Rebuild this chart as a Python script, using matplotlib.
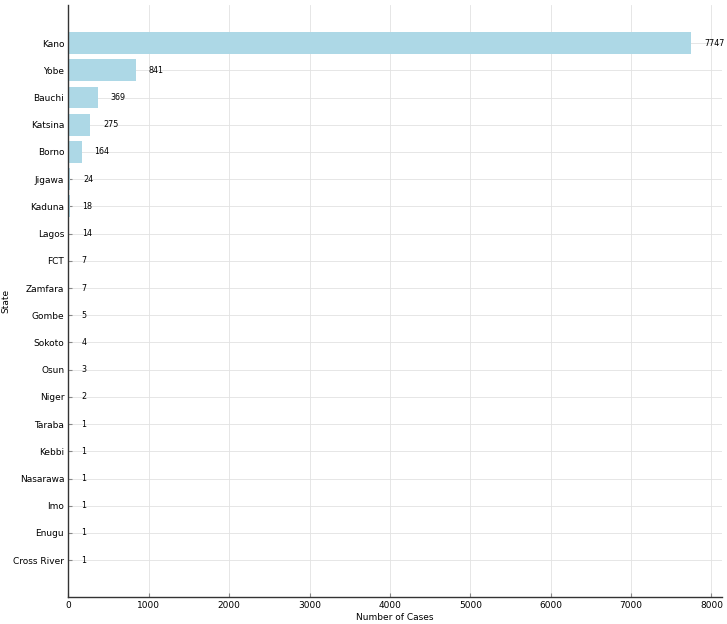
import matplotlib
matplotlib.use("Agg")
import matplotlib.pyplot as plt

states = ["Kano", "Yobe", "Bauchi", "Katsina", "Borno", "Jigawa", "Kaduna",
          "Lagos", "FCT", "Zamfara", "Gombe", "Sokoto", "Osun", "Niger",
          "Taraba", "Kebbi", "Nasarawa", "Imo", "Enugu", "Cross River"]
cases = [7747, 841, 369, 275, 164, 24, 18, 14, 7, 7, 5, 4, 3, 2, 1, 1, 1, 1, 1, 1]

fig = plt.figure(figsize=(7.27, 6.24), dpi=100)
ax = fig.add_axes([0.094, 0.043, 0.899, 0.949])

pos = list(range(len(states)))
ax.barh(pos, cases, height=0.8, color="lightblue", zorder=2)
for p, v in zip(pos, cases):
    ax.text(v + 160, p, str(v), va="center", ha="left", fontsize=5.8, zorder=3)

ax.set_yticks(pos)
ax.set_yticklabels(states, fontsize=6.5)
ax.set_xticks(range(0, 8001, 1000))
ax.tick_params(axis="x", labelsize=6.5)
ax.tick_params(direction="in", length=3, color="#888888", pad=3)
ax.set_xlim(0, 8130)
ax.set_ylim(len(states) - 1 + 1.36, -1.4)

ax.grid(True, color="#e2e2e2", linewidth=0.6, zorder=0)
for s in ["top", "right"]:
    ax.spines[s].set_visible(False)
for s in ["left", "bottom"]:
    ax.spines[s].set_color("#333333")
    ax.spines[s].set_linewidth(1.0)

ax.set_xlabel("Number of Cases", fontsize=6.5, labelpad=2)
ax.set_ylabel("State", fontsize=6.5, labelpad=2)

fig.savefig("out.png", dpi=100)
